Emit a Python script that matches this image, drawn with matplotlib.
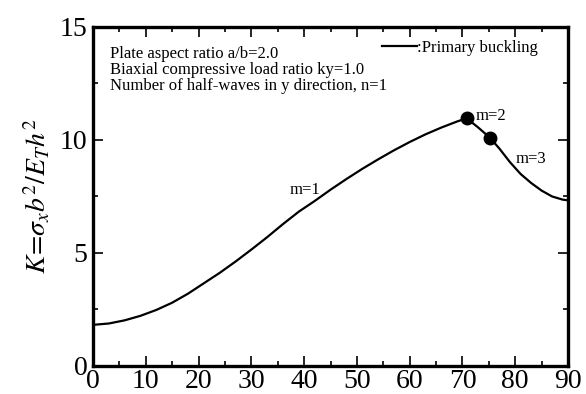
import matplotlib

matplotlib.use("Agg")
import matplotlib.pyplot as plt
from matplotlib.ticker import MultipleLocator

plt.rcParams["font.family"] = ["Liberation Serif", "DejaVu Serif"]
plt.rcParams["mathtext.fontset"] = "stix"

m1_x = [0, 3, 6, 9, 12, 15, 18, 21, 24, 27, 30, 33, 36, 39, 42, 45, 48, 51, 54, 57, 60, 63, 66, 69, 70.8]
m1_k = [1.82, 1.88, 2.02, 2.22, 2.48, 2.80, 3.20, 3.66, 4.12, 4.62, 5.15, 5.70, 6.28, 6.83, 7.30, 7.80, 8.27, 8.72, 9.14, 9.54, 9.91, 10.25, 10.55, 10.82, 10.96]
m2_x = [70.8, 73, 75.2]
m2_k = [10.96, 10.55, 10.10]
m3_x = [75.2, 77, 79, 81, 83, 85, 87, 89, 90]
m3_k = [10.10, 9.62, 9.02, 8.50, 8.10, 7.76, 7.50, 7.36, 7.33]
switch_x = [70.8, 75.2]
switch_k = [10.96, 10.10]

fig = plt.figure(figsize=(5.86, 3.94), dpi=100, facecolor="white")
ax = fig.add_axes([0.1587, 0.0711, 0.8106, 0.8604])

x_all = m1_x + m2_x[1:] + m3_x[1:]
k_all = m1_k + m2_k[1:] + m3_k[1:]
ax.plot(x_all, k_all, color="black", linewidth=1.6, label=":Primary buckling")
ax.plot(switch_x, switch_k, "o", color="black", markersize=9)

ax.set_xlim(0, 90)
ax.set_ylim(0, 15)
ax.xaxis.set_major_locator(MultipleLocator(10))
ax.xaxis.set_minor_locator(MultipleLocator(5))
ax.yaxis.set_major_locator(MultipleLocator(5))
ax.yaxis.set_minor_locator(MultipleLocator(2.5))
ax.tick_params(which="both", direction="in", top=True, right=True, width=1.2, labelsize=20)
ax.tick_params(axis="x", pad=2.5)
ax.tick_params(axis="y", pad=4)
ax.tick_params(which="major", length=7)
ax.tick_params(which="minor", length=3.3)
for spine in ax.spines.values():
    spine.set_linewidth(2.4)

ax.set_ylabel(r"$K\!=\!\sigma_x b^2/E_T h^2$", fontsize=20, labelpad=5)

ax.text(3.2, 13.1,
        "Plate aspect ratio a/b=2.0\nBiaxial compressive load ratio ky=1.0\nNumber of half-waves in y direction, n=1",
        fontsize=12, va="center", ha="left", linespacing=0.98)
ax.text(37.3, 7.8, "m=1", fontsize=12, va="center", ha="left")
ax.text(72.5, 11.04, "m=2", fontsize=12, va="center", ha="left")
ax.text(80.0, 9.16, "m=3", fontsize=12, va="center", ha="left")

ax.legend(loc="center left", bbox_to_anchor=(0.608, 0.938), frameon=False, fontsize=12,
          handlelength=2.1, handletextpad=0.0, borderaxespad=0.0, borderpad=0.0)

fig.savefig("out.png", dpi=100, facecolor="white")
